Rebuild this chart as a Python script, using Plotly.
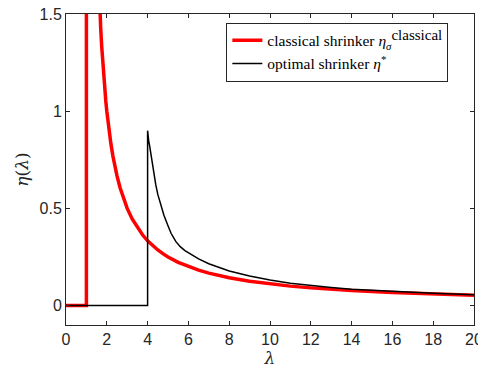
import plotly.graph_objects as go

# classical shrinker (red): values
red_lam = [0, 1.0, 1.0, 1.05, 1.1, 1.2, 1.3, 1.4, 1.5, 1.6, 1.65, 1.7, 1.75, 1.8, 1.85, 1.9, 1.95, 2.0,
           2.1, 2.2, 2.3, 2.4, 2.5, 2.65, 2.8, 3.0, 3.25, 3.5, 3.75, 4.0, 4.25, 4.5, 4.75, 5.0, 5.5,
           6.0, 6.5, 7.0, 7.5, 8.0, 9.0, 10.0, 11.0, 12.0, 13.0, 14.0, 16.0, 18.0, 20.0]
red_eta = [0, 0, 30.0, 20.0, 10.0, 5.0, 3.33, 2.5, 2.0, 1.667, 1.538, 1.429, 1.333, 1.25, 1.176, 1.111,
           1.053, 1.0, 0.909, 0.833, 0.769, 0.714, 0.667, 0.606, 0.556, 0.5, 0.444, 0.4, 0.364, 0.333,
           0.308, 0.286, 0.267, 0.25, 0.222, 0.2, 0.182, 0.167, 0.154, 0.143, 0.125, 0.111, 0.1, 0.091,
           0.083, 0.077, 0.067, 0.059, 0.053]

# optimal shrinker (black): values
blk_lam = [0, 4.0, 4.0, 4.02, 4.05, 4.1, 4.15, 4.23, 4.3, 4.4, 4.5, 4.64, 4.8, 4.97, 5.15, 5.38,
           5.6, 5.83, 6.08, 6.5, 7.0, 7.5, 8.0, 9.0, 10.0, 11.0, 12.0, 13.0, 14.0, 16.0, 18.0, 20.0]
blk_eta = [0, 0, 0.90, 0.87, 0.85, 0.822, 0.785, 0.728, 0.68, 0.622, 0.572, 0.517, 0.465, 0.418,
           0.372, 0.33, 0.303, 0.283, 0.266, 0.24, 0.215, 0.195, 0.178, 0.152, 0.131, 0.115, 0.103,
           0.093, 0.084, 0.072, 0.063, 0.055]

x_ticks = [0, 2, 4, 6, 8, 10, 12, 14, 16, 18, 20]
y_ticks = [0, 0.5, 1, 1.5]
y_tick_text = ["0", "0.5", "1", "1.5"]

fig = go.Figure()
fig.add_trace(go.Scatter(x=red_lam, y=red_eta, mode="lines",
                         line=dict(color="#ff0000", width=3.5),
                         name="classical shrinker <i>η</i><sub><i>σ</i></sub>"
                              "<sup><span style=\"font-size:15px\">classical</span></sup>"))
fig.add_trace(go.Scatter(x=blk_lam, y=blk_eta, mode="lines",
                         line=dict(color="#000000", width=1.5),
                         name="optimal shrinker <i>η</i><sup>*</sup>"))

axis_common = dict(showgrid=False, zeroline=False, showline=True, linecolor="#262626", linewidth=1,
                   mirror="allticks", ticks="inside", ticklen=4, tickcolor="#262626",
                   automargin=False, ticklabeloverflow="allow",
                   tickfont=dict(family="Liberation Sans, Arial", size=16, color="#262626"))

fig.update_xaxes(range=[0, 20], tickvals=x_ticks, **axis_common,
                 title=dict(text="<i>λ</i>", font=dict(family="DejaVu Serif", size=17, color="#262626"),
                            standoff=0))
fig.update_yaxes(range=[-0.1, 1.5], tickvals=y_ticks, ticktext=y_tick_text, **axis_common,
                 title=dict(text="<i>η</i>(<i>λ</i>)", font=dict(family="DejaVu Serif", size=17, color="#262626"),
                            standoff=6))

# the page body adds an 8px offset, so the figure is sized to fit the remaining window
fig.update_layout(
    width=478, height=363,
    margin=dict(l=58, r=12, t=6, b=46),
    paper_bgcolor="white", plot_bgcolor="white",
    showlegend=True,
    legend=dict(x=0.393, y=0.972, xanchor="left", yanchor="top",
                bgcolor="white", bordercolor="#262626", borderwidth=1,
                font=dict(family="Liberation Serif, DejaVu Serif", size=15.5, color="#000000"),
                itemwidth=30, tracegroupgap=0),
)

fig.write_html("out.html")
